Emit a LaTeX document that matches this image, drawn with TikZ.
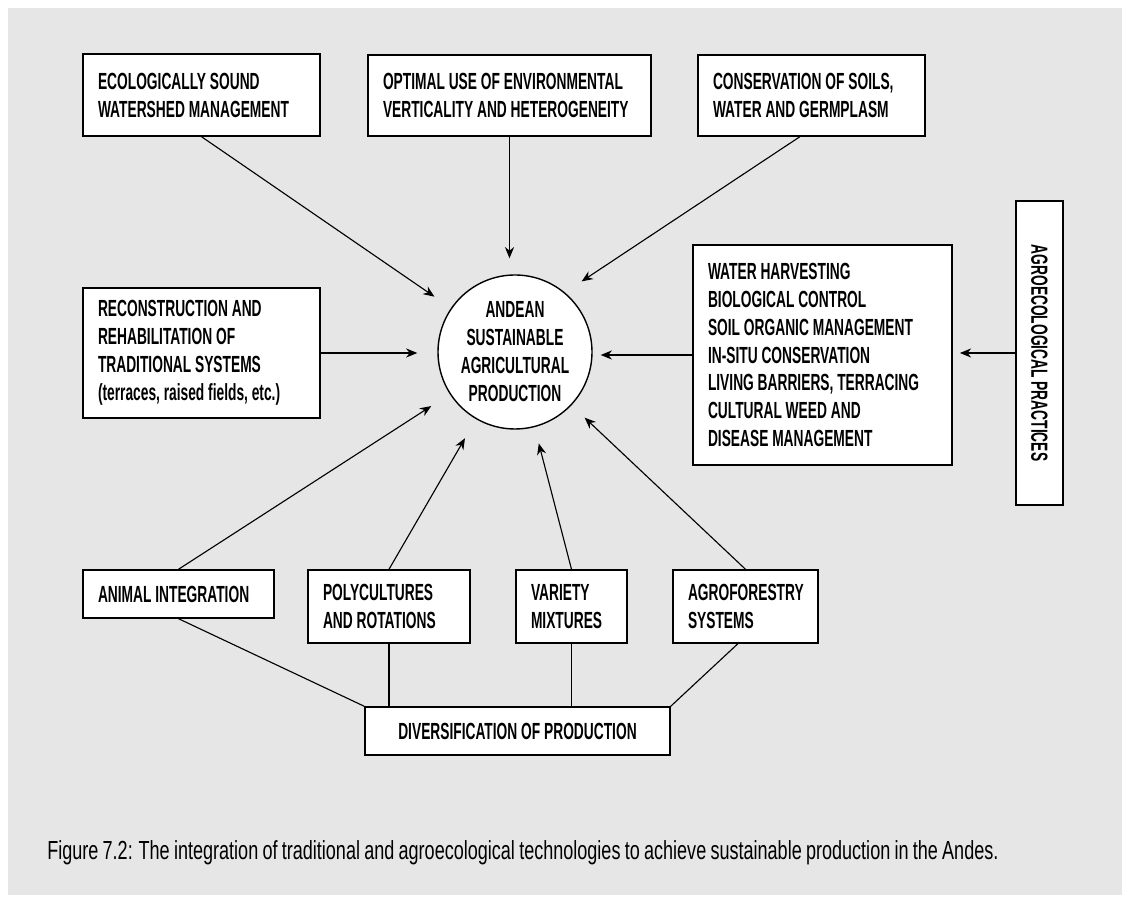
\documentclass[tikz,border=0pt]{standalone}
\usepackage{fontspec}
\setmainfont{Liberation Sans}[FakeStretch=0.59]
\newfontfamily\capface{Liberation Sans}[FakeStretch=0.69, WordSpace=0.85]
\usepackage{tikz}
\usetikzlibrary{arrows.meta}
\definecolor{figgray}{RGB}{230,230,230}
\newcommand{\boxfont}{\fontsize{16.6pt}{19.9pt}\selectfont\bfseries}
\newcommand{\capfont}{\capface\fontsize{18.6pt}{22pt}\selectfont}
\hyphenpenalty=10000
\exhyphenpenalty=10000

\begin{document}
\begin{tikzpicture}[
  box/.style={draw, fill=white, line width=1pt, inner sep=0pt, align=flush left, font=\boxfont},
  feed/.style={-{Stealth[length=8pt,width=6.5pt]}, line width=0.8pt, shorten >=0.5cm},
  link/.style={line width=0.8pt}]
  \useasboundingbox (0,0) rectangle (28.25,22.575);
  \fill[figgray] (0.2,0.2) rectangle (28.05,22.375);
  % Top row
  \node[box, minimum width=5.925cm, minimum height=2.05cm, text width=5.175cm] (watershed) at (5.0375,20.2) {ECOLOGICALLY SOUND\\WATERSHED MANAGEMENT};
  \node[box, minimum width=7.075cm, minimum height=2.025cm, text width=6.325cm] (optimal) at (12.7375,20.1875) {OPTIMAL USE OF ENVIRONMENTAL\\VERTICALITY AND HETEROGENEITY};
  \node[box, minimum width=5.675cm, minimum height=2.025cm, text width=4.925cm] (soils) at (20.2875,20.1875) {CONSERVATION OF SOILS,\\WATER AND GERMPLASM};
  % Centre
  \node[draw, circle, fill=white, line width=1pt, minimum size=3.85cm, inner sep=0pt, align=center, font=\boxfont] (hub) at (12.875,13.775) {ANDEAN\\SUSTAINABLE\\AGRICULTURAL\\PRODUCTION};
  \node[box, minimum width=5.925cm, minimum height=3.25cm, text width=5.175cm] (recon) at (5.0375,13.75) {RECONSTRUCTION AND\\REHABILITATION OF\\TRADITIONAL SYSTEMS\\(terraces, raised fields, etc.)};
  \node[box, minimum width=6.475cm, minimum height=5.5cm, text width=5.725cm] (practices) at (20.5625,13.7) {WATER HARVESTING\\BIOLOGICAL CONTROL\\SOIL ORGANIC MANAGEMENT\\IN-SITU CONSERVATION\\LIVING BARRIERS, TERRACING\\CULTURAL WEED AND\\DISEASE MANAGEMENT};
  \node[box, rotate=-90, align=center, minimum width=7.6cm, minimum height=1.175cm] (agro) at (25.9875,13.75) {AGROECOLOGICAL PRACTICES};
  % Bottom row
  \node[box, minimum width=4.775cm, minimum height=1.2cm, text width=4.025cm] (animal) at (4.4625,7.725) {ANIMAL INTEGRATION};
  \node[box, minimum width=4.05cm, minimum height=1.825cm, text width=3.3cm] (poly) at (9.725,7.4125) {POLYCULTURES\\AND ROTATIONS};
  \node[box, minimum width=2.775cm, minimum height=1.825cm, text width=2.025cm] (variety) at (14.2875,7.4125) {VARIETY\\MIXTURES};
  \node[box, minimum width=3.625cm, minimum height=1.825cm, text width=2.875cm] (agrofor) at (18.6375,7.4125) {AGROFORESTRY\\SYSTEMS};
  \node[box, align=center, minimum width=7.625cm, minimum height=1.2cm] (divers) at (12.9375,4.3) {DIVERSIFICATION OF PRODUCTION};
  % Arrows into the centre
  \draw[feed] (watershed.south) -- (hub);
  \draw[feed, shorten >=0.4cm] (optimal.south) -- (optimal.south |- hub.north);
  \draw[feed] ([xshift=-0.29cm]soils.south) -- (hub.50);
  \draw[feed] (recon.east) -- (recon.east -| hub.west);
  \draw[feed, shorten >=0.2cm] (practices.west) -- (practices.west -| hub.east);
  \draw[feed, shorten >=0.18cm] (agro.south) -- (agro.south -| practices.east);
  \draw[feed, shorten >=0.55cm] (animal.north) -- (hub);
  \draw[feed, shorten >=0.55cm] (poly.north) -- (hub);
  \draw[feed, shorten >=0.42cm] (variety.north) -- (hub);
  \draw[feed, shorten >=0.45cm] (agrofor.north) -- (hub);
  % Links to diversification
  \draw[link] (animal.south) -- (divers.north west);
  \draw[link] (poly.south) -- (poly.south |- divers.north);
  \draw[link] (variety.south) -- (variety.south |- divers.north);
  \draw[link] ([xshift=-0.19cm]agrofor.south) -- (divers.north east);
  % Caption
  \node[anchor=base west, font=\capfont, inner sep=0pt] (caption) at (1.175,1.075) {Figure 7.2: The integration of traditional and agroecological technologies to achieve sustainable production in the Andes.};
\end{tikzpicture}
\end{document}
